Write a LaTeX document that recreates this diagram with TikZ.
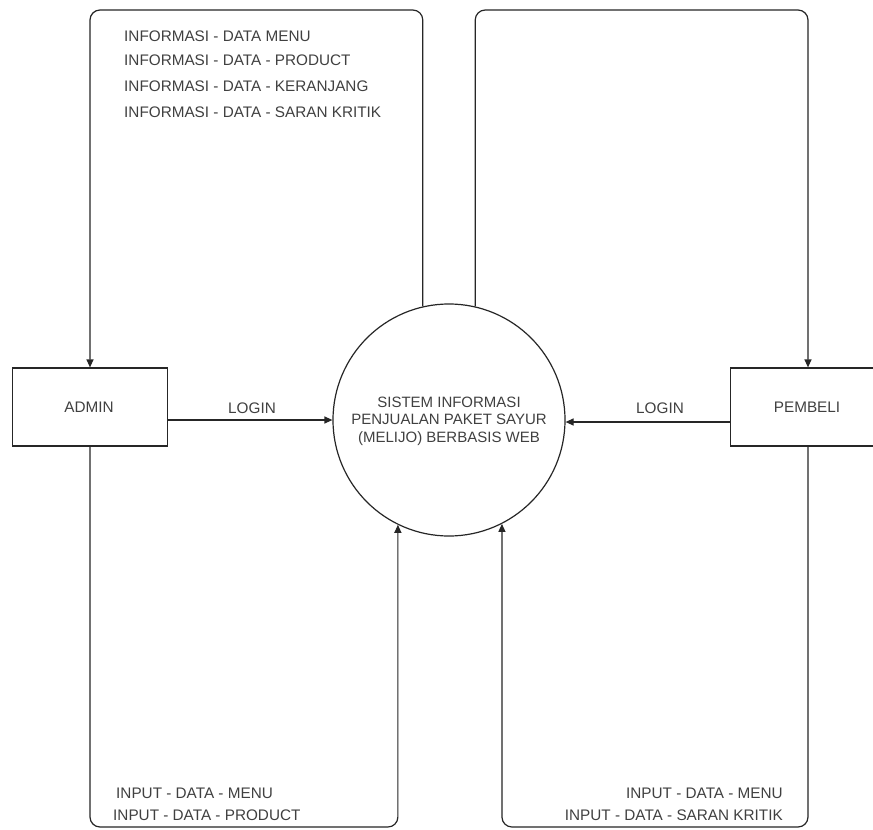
\documentclass[tikz,border=0pt]{standalone}
\usepackage{fontspec}
\setmainfont{Liberation Sans}
\usetikzlibrary{arrows.meta,calc}
\begin{document}
\begin{tikzpicture}[x=1pt,y=-1pt,
  line/.style={draw=black!85,line width=1.2pt},
  flow/.style={line,rounded corners=10pt,-{Triangle[length=8pt,width=7pt]}},
  ent/.style={line,rectangle,minimum width=155pt,minimum height=78pt,inner sep=0pt},
  txt/.style={text=black!75,font=\fontsize{15.3pt}{17pt}\selectfont,inner sep=0pt}]
\useasboundingbox (0,0) rectangle (873,830);
\fill[white] (0,0) rectangle (873,830);
\clip (0,0) rectangle (873,830);
\coordinate (top) at (0,10);
\coordinate (bot) at (0,827);
\node[ent] (admin) at (90,407) {};
\node[txt] (adminlbl) at (89,407) {ADMIN};
\node[ent] (pembeli) at (808,407) {};
\node[txt] (pemblbl) at (807,407) {PEMBELI};
\node[line,circle,minimum size=232pt,inner sep=0pt] (sys) at (449,420) {};
\node[txt,align=center,font=\fontsize{15pt}{17.5pt}\selectfont] (syslbl) at (449,421) {SISTEM INFORMASI\\PENJUALAN PAKET SAYUR\\(MELIJO) BERBASIS WEB};
% top connectors
\draw[flow] (sys.103) |- (admin.north |- top) -- (admin.north);
\draw[flow] (sys.77.5) |- (pembeli.north |- top) -- (pembeli.north);
% bottom connectors
\draw[flow] (admin.south) |- (sys.244 |- bot) -- (sys.244);
\draw[flow] (pembeli.south) |- (sys.297.5 |- bot) -- (sys.297.5);
% login
\draw[line,-{Triangle[length=8pt,width=7pt]}] (sys.west -| admin.east) -- (sys.west);
\draw[line,-{Triangle[length=8pt,width=7pt]}] ([yshift=-2pt]sys.east -| pembeli.west) -- ([yshift=-2pt]sys.east);
\node[txt] (login1) at (252,408) {LOGIN};
\node[txt] (login2) at (660,408) {LOGIN};
% labels
\node[txt,anchor=west] (i1) at (124,36) {INFORMASI - DATA MENU};
\node[txt,anchor=west] (i2) at (124,60) {INFORMASI - DATA - PRODUCT};
\node[txt,anchor=west] (i3) at (124,86) {INFORMASI - DATA - KERANJANG};
\node[txt,anchor=west] (i4) at (124,112) {INFORMASI - DATA - SARAN KRITIK};
\node[txt,anchor=west] (a1) at (116,793) {INPUT - DATA - MENU};
\node[txt,anchor=west] (a2) at (113,815) {INPUT - DATA - PRODUCT};
\node[txt,anchor=east] (p1) at (783,793) {INPUT - DATA - MENU};
\node[txt,anchor=east] (p2) at (783,815) {INPUT - DATA - SARAN KRITIK};
\end{tikzpicture}
\end{document}
